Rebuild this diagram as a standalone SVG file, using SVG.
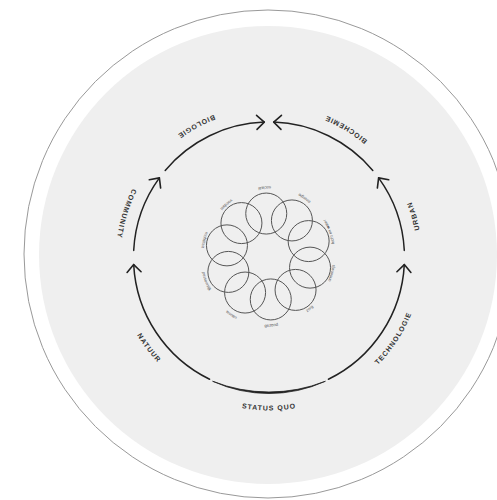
<svg xmlns="http://www.w3.org/2000/svg" xmlns:xlink="http://www.w3.org/1999/xlink" width="497" height="500" viewBox="0 0 497 500">
<style>
.lbl{font-family:"Liberation Sans",Arial,sans-serif;font-weight:bold;font-size:7px;letter-spacing:1px;fill:#333}
.sm{font-family:"Liberation Sans",Arial,sans-serif;font-size:4.2px;fill:#555}
.arc{fill:none;stroke:#222;stroke-width:1.5;stroke-linecap:round}
.petal{fill:none;stroke:#555;stroke-width:1}
</style>
<defs>
<marker id="arr" markerUnits="userSpaceOnUse" viewBox="-12 -12 24 24" markerWidth="24" markerHeight="24" refX="0" refY="0" orient="auto" overflow="visible">
<path d="M -7.5 -7 L 0 0 L -7.5 7" fill="none" stroke="#222" stroke-width="1.6" stroke-linecap="round" stroke-linejoin="round"/>
</marker>
<path id="outerPath" d="M 204.34 396.17 A 153 153 0 0 0 333.66 118.83 A 153 153 0 0 0 204.34 396.17"/>
<path id="innerPath" d="M 249.99 325.56 A 71.5 71.5 0 0 0 286.01 187.44 A 71.5 71.5 0 0 0 249.99 325.56"/>
</defs>
<rect width="497" height="500" fill="#ffffff"/>
<g id="background">
<circle cx="268" cy="254" r="244" fill="none" stroke="#999" stroke-width="1"/>
<circle cx="268" cy="255" r="229" fill="#efefef"/>
</g>
<g id="connectors">
<path class="arc" d="M 209.60 379.29 A 135.5 135.5 0 0 1 133.69 264.59" marker-end="url(#arr)"/>
<path class="arc" d="M 133.69 250.41 A 135.5 135.5 0 0 1 159.38 177.86" marker-end="url(#arr)"/>
<path class="arc" d="M 165.20 170.40 A 135.5 135.5 0 0 1 264.27 122.08" marker-end="url(#arr)"/>
<path class="arc" d="M 372.80 170.40 A 135.5 135.5 0 0 0 273.73 122.08" marker-end="url(#arr)"/>
<path class="arc" d="M 404.31 250.41 A 135.5 135.5 0 0 0 378.62 177.86" marker-end="url(#arr)"/>
<path class="arc" d="M 328.40 379.29 A 135.5 135.5 0 0 0 404.31 264.59" marker-end="url(#arr)"/>
<path d="M 212.60 381.25 A 136 136 0 0 0 325.40 381.25 A 153.33 153.33 0 0 1 212.60 381.25 Z" fill="#222" stroke="#222" stroke-width="0.8" stroke-linejoin="round"/>
</g>
<g id="status-quo"><text class="lbl" text-anchor="middle"><textPath xlink:href="#outerPath" href="#outerPath" startOffset="6.944%">STATUS QUO</textPath></text></g>
<g id="technologie"><text class="lbl" text-anchor="middle"><textPath xlink:href="#outerPath" href="#outerPath" startOffset="22.78%">TECHNOLOGIE</textPath></text></g>
<g id="urban"><text class="lbl" text-anchor="middle"><textPath xlink:href="#outerPath" href="#outerPath" startOffset="36.39%">URBAN</textPath></text></g>
<g id="biochemie"><text class="lbl" text-anchor="middle"><textPath xlink:href="#outerPath" href="#outerPath" startOffset="48.33%">BIOCHEMIE</textPath></text></g>
<g id="biologie"><text class="lbl" text-anchor="middle"><textPath xlink:href="#outerPath" href="#outerPath" startOffset="65.0%">BIOLOGIE</textPath></text></g>
<g id="community"><text class="lbl" text-anchor="middle"><textPath xlink:href="#outerPath" href="#outerPath" startOffset="77.22%">COMMUNITY</textPath></text></g>
<g id="natuur"><text class="lbl" text-anchor="middle"><textPath xlink:href="#outerPath" href="#outerPath" startOffset="92.22%">NATUUR</textPath></text></g>
<g id="flower">
<g id="petal-1"><circle class="petal" cx="266.25" cy="213.56" r="20.5"/><text class="sm" text-anchor="middle"><textPath xlink:href="#innerPath" href="#innerPath" startOffset="55%">sociaal</textPath></text></g>
<g id="petal-2"><circle class="petal" cx="291.92" cy="220.44" r="20.5"/><text class="sm" text-anchor="middle"><textPath xlink:href="#innerPath" href="#innerPath" startOffset="45%">energie</textPath></text></g>
<g id="petal-3"><circle class="petal" cx="308.64" cy="241.09" r="20.5"/><text class="sm" text-anchor="middle"><textPath xlink:href="#innerPath" href="#innerPath" startOffset="35%">lucht en water</textPath></text></g>
<g id="petal-4"><circle class="petal" cx="310.04" cy="267.63" r="20.5"/><text class="sm" text-anchor="middle"><textPath xlink:href="#innerPath" href="#innerPath" startOffset="25%">onderwijs</textPath></text></g>
<g id="petal-5"><circle class="petal" cx="295.56" cy="289.92" r="20.5"/><text class="sm" text-anchor="middle"><textPath xlink:href="#innerPath" href="#innerPath" startOffset="15%">zorg</textPath></text></g>
<g id="petal-6"><circle class="petal" cx="270.75" cy="299.44" r="20.5"/><text class="sm" text-anchor="middle"><textPath xlink:href="#innerPath" href="#innerPath" startOffset="5%">gezond</textPath></text></g>
<g id="petal-7"><circle class="petal" cx="245.08" cy="292.56" r="20.5"/><text class="sm" text-anchor="middle"><textPath xlink:href="#innerPath" href="#innerPath" startOffset="95%">wonen</textPath></text></g>
<g id="petal-8"><circle class="petal" cx="228.36" cy="271.91" r="20.5"/><text class="sm" text-anchor="middle"><textPath xlink:href="#innerPath" href="#innerPath" startOffset="85%">persoonlijk</textPath></text></g>
<g id="petal-9"><circle class="petal" cx="226.96" cy="245.37" r="20.5"/><text class="sm" text-anchor="middle"><textPath xlink:href="#innerPath" href="#innerPath" startOffset="75%">mobiliteit</textPath></text></g>
<g id="petal-10"><circle class="petal" cx="241.44" cy="223.08" r="20.5"/><text class="sm" text-anchor="middle"><textPath xlink:href="#innerPath" href="#innerPath" startOffset="65%">voedsel</textPath></text></g>
</g>
</svg>
